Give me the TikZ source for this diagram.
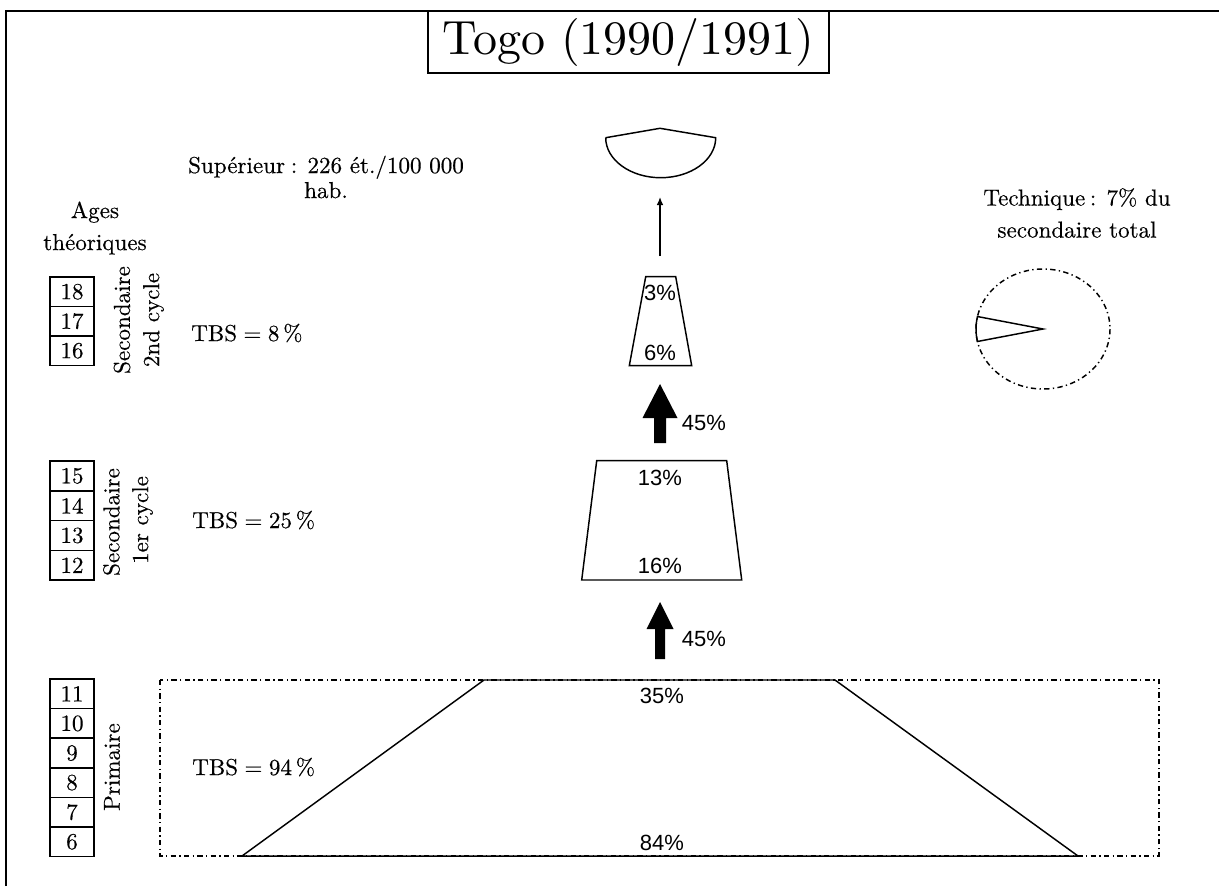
\documentclass[tikz,border=0pt]{standalone}
\usepackage{fontspec}
\setmainfont{lmroman10-regular}[Extension=.otf, FakeBold=0.35]
\newfontfamily\titlefont{lmroman10-regular}[Extension=.otf]
\newfontfamily\arialf{Liberation Sans}
\usetikzlibrary{arrows.meta}
\begin{document}
\begin{tikzpicture}[x=0.75pt,y=-0.75pt,
  serif/.style={font=\fontsize{17.3}{24}\selectfont, inner sep=0pt},
  pct/.style={font=\arialf\fontsize{16.5}{18}\selectfont, inner sep=0pt},
  agebox/.style={draw, line width=1.1pt, minimum width=33pt, minimum height=22.2pt, inner sep=0pt, font=\fontsize{17.3}{20}\selectfont},
  shapeline/.style={line width=1.1pt},
  dashdot/.style={line width=1.1pt, dash pattern=on 4pt off 2.5pt on 1pt off 2.5pt},
  blockarrow/.style={fill=black, draw=none}]
\useasboundingbox (0,0) rectangle (1219,886);
% frame
\draw[line width=1.8pt] (6,886) -- (6,11) -- (1219,11);
% title
\node[draw, line width=1.1pt, minimum width=300.75pt, minimum height=46.5pt, inner sep=0pt,
      font=\titlefont\fontsize{36}{40}\selectfont] (title) at (628.5,42) {Togo (1990/1991)};
% side labels
\node[serif, align=center, font=\fontsize{17.3}{18.75}\selectfont] (sup) at (326,177) {Supérieur\hspace{0.25em}: 226 ét./100 000\\hab.};
\node[serif, align=center] (ages) at (95,228) {Ages\\théoriques};
\node[serif, align=center] (tech) at (1077,213) {Technique\hspace{0.2em}: 7\% du\\secondaire total};
% age boxes
\foreach \n [count=\i] in {18,17,16} \node[agebox] (a\n) at (72,{277+29.5*(\i-0.5)}) {\n};
\foreach \n [count=\i] in {15,14,13,12} \node[agebox] (a\n) at (72,{461+29.8*(\i-0.5)}) {\n};
\foreach \n [count=\i] in {11,10,9,8,7,6} \node[agebox] (a\n) at (72,{679+29.6*(\i-0.5)}) {\n};
% rotated level labels
\node[serif, rotate=90] (sec2a) at (122,320) {Secondaire};
\node[serif, rotate=90] (sec2b) at (153.5,320) {2nd cycle};
\node[serif, rotate=90] (sec1a) at (111.5,522) {Secondaire};
\node[serif, rotate=90] (sec1b) at (142.5,520) {1er cycle};
\node[serif, rotate=90] (prim) at (112,767) {Primaire};
% TBS
\node[serif, anchor=west] (tbs2) at (191,333) {TBS\hspace{0.28em}=\hspace{0.28em}8\,\%};
\node[serif, anchor=west] (tbs1) at (192,520) {TBS\hspace{0.28em}=\hspace{0.28em}25\,\%};
\node[serif, anchor=west] (tbsp) at (192,767) {TBS\hspace{0.28em}=\hspace{0.28em}94\,\%};
% superieur bowl
\draw[shapeline] (605.7,137.7) -- (660,128.3) -- (715.7,137.7)
   arc[start angle=0, end angle=180, x radius=55, y radius=40];
% thin arrow
\coordinate (s2top) at (660,256);
\coordinate (supbot) at (660,197);
\draw[line width=1pt, -{Latex[length=6pt,width=5pt]}] (s2top) -- (supbot);
% secondaire 2nd cycle trapezoid
\draw[shapeline] (645.7,276.7) -- (675.7,276.7) -- (691.7,365.7) -- (629.3,365.7) -- cycle;
\node[pct] (p3) at (660,293) {3\%};
\node[pct] (p6) at (660,353) {6\%};
% block arrow upper
\fill[blockarrow] (660,384) -- (677.5,418) -- (666,418) -- (666,443) -- (654,443) -- (654,418) -- (642.5,418) -- cycle;
\node[pct] (t45a) at (704,423) {45\%};
% secondaire 1er cycle trapezoid
\draw[shapeline] (596.7,460.7) -- (726.7,460.7) -- (741.7,580) -- (581.7,580) -- cycle;
\node[pct] (p13) at (660,478) {13\%};
\node[pct] (p16) at (660,566) {16\%};
% block arrow lower
\fill[blockarrow] (660,602) -- (673.5,629) -- (665,629) -- (665,659) -- (655,659) -- (655,629) -- (646.5,629) -- cycle;
\node[pct] (t45b) at (704,639) {45\%};
% primaire
\draw[dashdot] (160,680) rectangle (1159,856);
\draw[shapeline] (484,680) -- (835,680) -- (1078,856) -- (242,856) -- cycle;
\node[pct] (p35) at (662,696) {35\%};
\node[pct] (p84) at (662,843) {84\%};
% technique pie
\coordinate (pc) at (1043,329);
\draw[dashdot] (pc) ellipse [x radius=67, y radius=60];
\draw[shapeline] (pc) -- ++({67*cos(192)},{60*sin(192)}) arc[start angle=192, end angle=168, x radius=67, y radius=60] -- cycle;
\end{tikzpicture}
\end{document}
